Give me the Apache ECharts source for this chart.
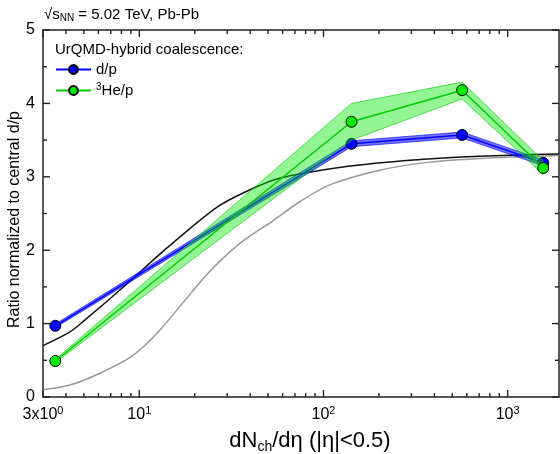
<!DOCTYPE html>
<html>
<head>
<meta charset="utf-8">
<script src="https://cdn.jsdelivr.net/npm/echarts@6/dist/echarts.min.js"></script>
<style>html,body{margin:0;padding:0;background:#fff}#c{width:560px;height:454px}</style>
</head>
<body>
<div id="c"></div>
<script>
// ---- data ----
const multX = [3.5, 142, 566, 1560];
const dpY = [0.97, 3.45, 3.57, 3.19];
const dpLow = [0.945, 3.41, 3.53, 3.15];
const dpHigh = [0.995, 3.49, 3.61, 3.23];
const he3pY = [0.49, 3.75, 4.18, 3.12];
const he3pLow = [0.47, 3.50, 4.06, 3.03];
const he3pHigh = [0.51, 4.00, 4.29, 3.22];
const blackX = [3, 4.16, 4.91, 8.47, 13.4, 26.2, 38.1, 57.8, 133, 308, 710, 1900];
const blackY = [0.70, 0.88, 1.02, 1.53, 1.98, 2.58, 2.80, 2.98, 3.14, 3.23, 3.28, 3.31];
const grayX = [3, 4.16, 5.95, 9.16, 12.8, 23.1, 35.0, 53.1, 74.3, 108, 202, 378, 710, 1900];
const grayY = [0.10, 0.16, 0.31, 0.56, 0.90, 1.66, 2.09, 2.40, 2.66, 2.89, 3.09, 3.20, 3.25, 3.29];
const xTickValues = [3, 10, 100, 1000];
const xTickLabels = ['3x10{sup|0}', '10{sup|1}', '10{sup|2}', '10{sup|3}'];
const xMinorTicks = [4, 5, 6, 7, 8, 9, 20, 30, 40, 50, 60, 70, 80, 90, 200, 300, 400, 500, 600, 700, 800, 900];
const yTickValues = [0, 1, 2, 3, 4, 5];
const yMinorTicks = [0.5, 1.5, 2.5, 3.5, 4.5];
const seriesNames = ['d/p', '{sup|3}He/p'];

const zip = (xs, ys) => xs.map((x, i) => [x, ys[i]]);
const FONT = 'Liberation Sans, Arial, sans-serif';
const AX = '#222';
const MAJOR_LEN = 7, MINOR_LEN = 4, TICK_W = 1.4;

function bandSeries(low, high, fill, edge, z) {
  return {
    type: 'custom', z: z, silent: true,
    data: multX.map((x, i) => [x, low[i], high[i]]),
    renderItem: function (params, api) {
      if (params.dataIndex !== 0) return null;
      const up = multX.map((x, i) => api.coord([x, high[i]]));
      const lo = multX.map((x, i) => api.coord([x, low[i]])).reverse();
      return {
        type: 'polygon',
        shape: { points: up.concat(lo) },
        style: { fill: fill, stroke: edge, lineWidth: 1 }
      };
    }
  };
}

// axis ticks (inside, mirrored on the opposite side), placed by the axis scales
function tickRect(x, y, w, h) {
  return { type: 'rect', shape: { x: x, y: y, width: w, height: h }, style: { fill: AX } };
}
const xTickSeries = {
  type: 'custom', z: 20, silent: true, clip: false,
  data: xTickValues.map(v => [v, 1]).concat(xMinorTicks.map(v => [v, 0])),
  renderItem: function (params, api) {
    const cs = params.coordSys;
    const px = api.coord([api.value(0), 0])[0];
    const len = api.value(1) ? MAJOR_LEN : MINOR_LEN;
    const yb = cs.y + cs.height, yt = cs.y;
    return { type: 'group', children: [
      tickRect(px - TICK_W / 2, yb - len, TICK_W, len),
      tickRect(px - TICK_W / 2, yt, TICK_W, len)
    ] };
  }
};
const yTickSeries = {
  type: 'custom', z: 20, silent: true, clip: false,
  data: yTickValues.map(v => [3, v, 1]).concat(yMinorTicks.map(v => [3, v, 0])),
  encode: { x: 0, y: 1 },
  renderItem: function (params, api) {
    const cs = params.coordSys;
    const py = api.coord([3, api.value(1)])[1];
    const len = api.value(2) ? MAJOR_LEN : MINOR_LEN;
    const xl = cs.x, xr = cs.x + cs.width;
    return { type: 'group', children: [
      tickRect(xl, py - TICK_W / 2, len, TICK_W),
      tickRect(xr - len, py - TICK_W / 2, len, TICK_W)
    ] };
  }
};

const chart = echarts.init(document.getElementById('c'), null, { renderer: 'canvas' });
chart.setOption({
  animation: false,
  backgroundColor: '#fff',
  grid: { left: 43, right: 1, top: 30, bottom: 57, containLabel: false, outerBoundsMode: 'none' },
  xAxis: [
    {
      type: 'log', logBase: 10, min: 3, max: 1900, position: 'bottom',
      axisLine: { show: true, onZero: false, lineStyle: { color: AX, width: 1.5 } },
      axisTick: { show: false },
      splitLine: { show: false },
      axisLabel: {
        show: true, customValues: xTickValues, margin: 8,
        fontFamily: FONT, fontSize: 16, color: '#000',
        formatter: function (v) {
          let k = 0, best = 1e9;
          xTickValues.forEach((t, i) => { const d = Math.abs(Math.log10(t) - Math.log10(v)); if (d < best) { best = d; k = i; } });
          return xTickLabels[k];
        },
        rich: { sup: { fontSize: 11, verticalAlign: 'top', padding: [0, 0, 8, 0], fontFamily: FONT, color: '#000' } }
      },
      name: 'dN{sub|ch}/dη (|η|<0.5)', nameLocation: 'middle', nameGap: 31, nameMoveOverlap: false,
      nameTextStyle: {
        fontFamily: FONT, fontSize: 22, color: '#000', padding: [0, 0, 0, 18],
        rich: { sub: { fontSize: 14, verticalAlign: 'bottom', padding: [12, 0, 0, 0], fontFamily: FONT, color: '#000' } }
      }
    },
    {
      type: 'log', logBase: 10, min: 3, max: 1900, position: 'top',
      axisLine: { show: true, onZero: false, lineStyle: { color: AX, width: 1.5 } },
      axisTick: { show: false }, splitLine: { show: false }, axisLabel: { show: false }
    }
  ],
  yAxis: [
    {
      type: 'value', min: 0, max: 5, interval: 1, position: 'left',
      name: 'Ratio normalized to central d/p', nameLocation: 'middle', nameGap: 20, nameRotate: 90,
      nameMoveOverlap: false,
      nameTextStyle: { fontFamily: FONT, fontSize: 16, color: '#000', padding: [0, 12, 0, 0] },
      axisLine: { show: true, onZero: false, lineStyle: { color: AX, width: 1.5 } },
      axisTick: { show: false },
      splitLine: { show: false },
      axisLabel: { fontFamily: FONT, fontSize: 16, color: '#000', margin: 8 }
    },
    {
      type: 'value', min: 0, max: 5, interval: 1, position: 'right',
      axisLine: { show: true, onZero: false, lineStyle: { color: AX, width: 1.5 } },
      axisTick: { show: false }, splitLine: { show: false }, axisLabel: { show: false }
    }
  ],
  legend: {
    orient: 'vertical', left: 50, top: 57, itemWidth: 35, itemHeight: 11, itemGap: 5,
    data: seriesNames,
    textStyle: {
      fontFamily: FONT, fontSize: 15, color: '#000',
      rich: { sup: { fontSize: 10, verticalAlign: 'top', padding: [0, 0, 7, 0], fontFamily: FONT, color: '#000' } }
    }
  },
  graphic: [
    {
      type: 'text', left: 44, top: 7,
      style: {
        text: '√s{sub|NN} = 5.02 TeV, Pb-Pb', fill: '#000', fontSize: 15, fontFamily: FONT,
        rich: { sub: { fontSize: 10, verticalAlign: 'bottom', padding: [7, 0, 0, 0], fontFamily: FONT, fill: '#000' } }
      }
    },
    {
      type: 'text', left: 55, top: 42,
      style: { text: 'UrQMD-hybrid coalescence:', fill: '#000', fontSize: 15, fontFamily: FONT }
    }
  ],
  series: [
    { type: 'line', data: zip(grayX, grayY), smooth: 0.3, showSymbol: false, silent: true,
      lineStyle: { color: '#999', width: 1.5 }, z: 2 },
    { type: 'line', data: zip(blackX, blackY), smooth: 0.3, showSymbol: false, silent: true,
      lineStyle: { color: '#111', width: 1.5 }, z: 2 },
    bandSeries(dpLow, dpHigh, 'rgba(0,0,255,0.55)', 'rgba(0,0,255,0.6)', 3),
    { name: seriesNames[0], type: 'line', data: zip(multX, dpY), symbol: 'circle', symbolSize: 11,
      itemStyle: { color: '#0000ff', borderColor: '#000', borderWidth: 1 },
      lineStyle: { color: '#0000ff', width: 1.5 }, z: 4 },
    bandSeries(he3pLow, he3pHigh, 'rgba(0,230,0,0.42)', 'rgba(0,200,0,0.6)', 5),
    { name: seriesNames[1], type: 'line', data: zip(multX, he3pY), symbol: 'circle', symbolSize: 11,
      itemStyle: { color: '#00ee00', borderColor: '#000', borderWidth: 1 },
      lineStyle: { color: '#00cc00', width: 1.5 }, z: 6 },
    xTickSeries,
    yTickSeries
  ]
});
</script>
</body>
</html>
